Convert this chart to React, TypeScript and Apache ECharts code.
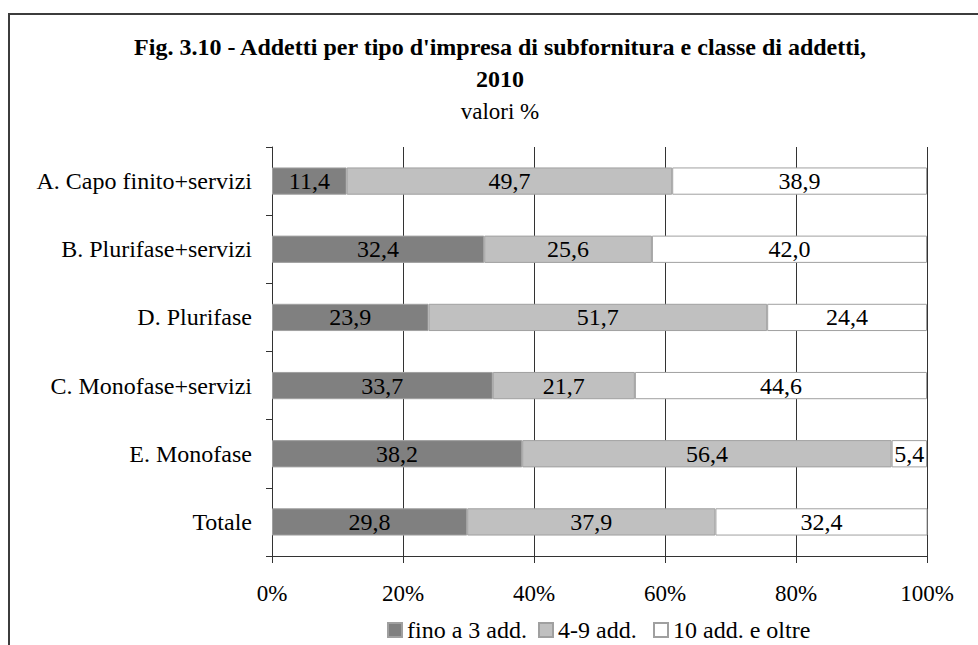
import { useEffect, useRef } from "react";
import * as echarts from "echarts";

const categories = [
  "A. Capo finito+servizi",
  "B. Plurifase+servizi",
  "D. Plurifase",
  "C. Monofase+servizi",
  "E. Monofase",
  "Totale",
];
const seriesNames = ["fino a 3 add.", "4-9 add.", "10 add. e oltre"];
const fino3 = [11.4, 32.4, 23.9, 33.7, 38.2, 29.8];
const da4a9 = [49.7, 25.6, 51.7, 21.7, 56.4, 37.9];
const oltre10 = [38.9, 42.0, 24.4, 44.6, 5.4, 32.4];
const titleLines = [
  "Fig. 3.10 - Addetti per tipo d'impresa di subfornitura e classe di addetti,",
  "2010",
];
const subtitle = "valori %";

const FONT = '"Liberation Serif", "Times New Roman", Times, serif';
const colors = ["#808080", "#c0c0c0", "#ffffff"];

export default function App() {
  const ref = useRef<HTMLDivElement>(null);
  useEffect(() => {
    if (!ref.current) return;
    const chart = echarts.init(ref.current, null, { renderer: "svg" });
    const values = [fino3, da4a9, oltre10];
    const legendLefts = [387, 538, 653];
    chart.setOption({
      animation: false,
      textStyle: { fontFamily: FONT, color: "#000" },
      graphic: [
        {
          type: "rect",
          z: 0,
          shape: { x: 9, y: 14, width: 1200, height: 1000 },
          style: { fill: "none", stroke: "#3c3c3c", lineWidth: 2 },
        },
        {
          type: "text",
          x: 500,
          y: 47,
          style: {
            text: titleLines[0],
            fontSize: 24,
            fontWeight: "bold",
            fontFamily: FONT,
            fill: "#000",
            align: "center",
            verticalAlign: "middle",
          },
        },
        {
          type: "text",
          x: 500,
          y: 79,
          style: {
            text: titleLines[1],
            fontSize: 24,
            fontWeight: "bold",
            fontFamily: FONT,
            fill: "#000",
            align: "center",
            verticalAlign: "middle",
          },
        },
        {
          type: "text",
          x: 500,
          y: 111,
          style: {
            text: subtitle,
            fontSize: 23,
            fontFamily: FONT,
            fill: "#000",
            align: "center",
            verticalAlign: "middle",
          },
        },
      ],
      legend: seriesNames.map((n, i) => ({
        data: [n],
        left: legendLefts[i],
        top: 618,
        icon: "rect",
        itemWidth: 14,
        itemHeight: 14,
        itemGap: 5,
        textStyle: { fontSize: 24, fontFamily: FONT, color: "#000" },
        padding: 0,
      })),
      grid: { left: 272, right: 51, top: 147, bottom: 89 },
      xAxis: {
        type: "value",
        min: 0,
        max: 100,
        interval: 20,
        axisLine: { show: true, lineStyle: { color: "#333", width: 1 } },
        axisTick: { show: true, length: 7, lineStyle: { color: "#333" } },
        splitLine: { show: true, lineStyle: { color: "#333", width: 1 } },
        axisLabel: {
          formatter: "{value}%",
          fontSize: 23,
          fontFamily: FONT,
          color: "#000",
          margin: 26,
        },
      },
      yAxis: {
        type: "category",
        data: categories,
        inverse: true,
        axisLine: { show: true, lineStyle: { color: "#333", width: 1 } },
        axisTick: { show: true, length: 6, lineStyle: { color: "#333" } },
        splitLine: { show: false },
        axisLabel: { fontSize: 24, fontFamily: FONT, color: "#000", margin: 20 },
      },
      series: seriesNames.map((n, i) => ({
        name: n,
        type: "bar",
        stack: "tot",
        barWidth: "40%",
        data: values[i],
        itemStyle: { color: colors[i], borderColor: "#a0a0a0", borderWidth: 1 },
        label: {
          show: true,
          position: "inside",
          fontSize: 24,
          fontFamily: FONT,
          color: "#000",
          formatter: (p: any) => Number(p.value).toFixed(1).replace(".", ","),
        },
      })),
    });
    return () => chart.dispose();
  }, []);
  return (
    <div
      ref={ref}
      style={{ position: "fixed", left: 0, top: 0, width: 978, height: 645, background: "#fff" }}
    />
  );
}
